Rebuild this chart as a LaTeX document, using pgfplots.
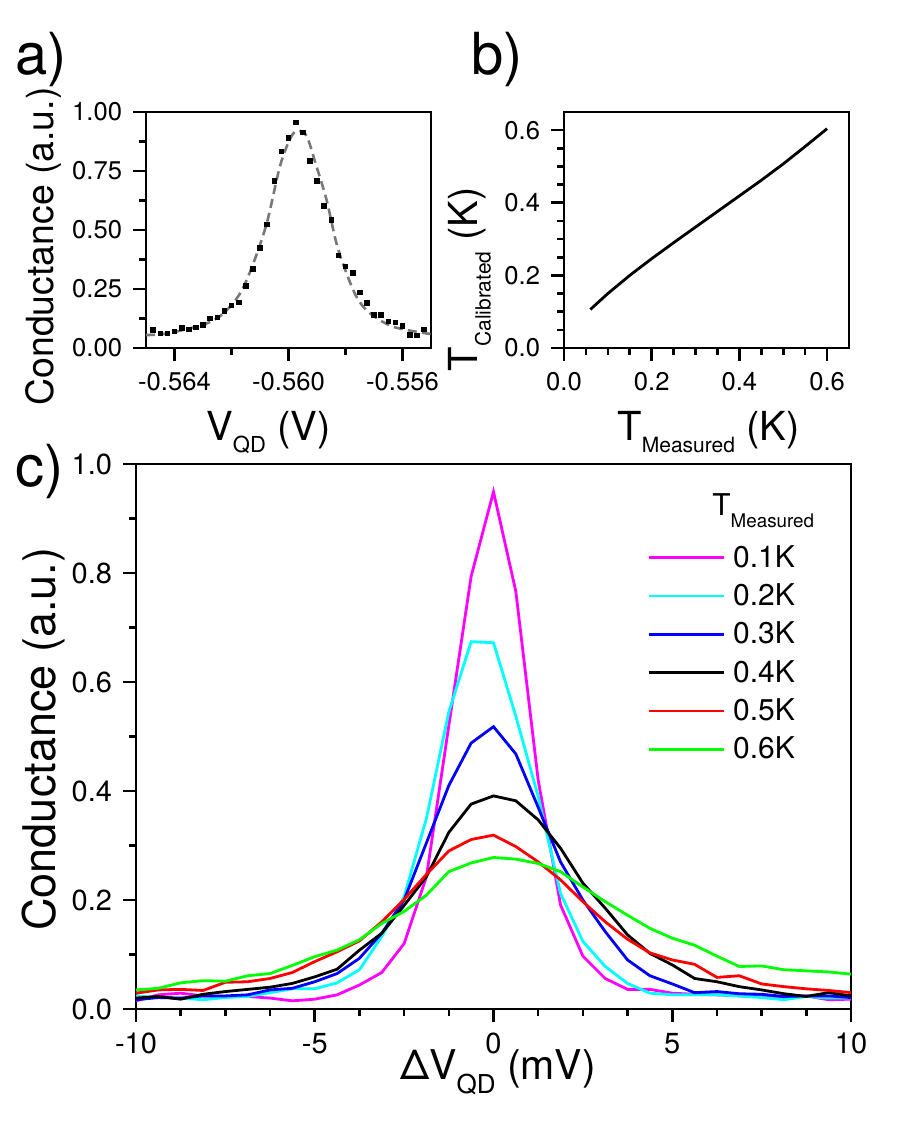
\documentclass[border=0pt]{standalone}
\usepackage{fontspec}
\setmainfont{TeX Gyre Heros}
\usepackage{pgfplots}
\usepackage{pgfplotstable}
\pgfplotsset{compat=1.18}

\newcommand{\fs}[1]{\fontsize{#1}{#1}\selectfont}
\definecolor{pmag}{RGB}{255,0,255}
\definecolor{pcyan}{RGB}{0,255,255}
\definecolor{pblue}{RGB}{0,0,255}
\definecolor{pred}{RGB}{255,0,0}
\definecolor{pgreen}{RGB}{0,255,0}
\definecolor{fitgray}{RGB}{120,120,120}

% conductance peaks at the six measured temperatures
\pgfplotstableread{
x m c b k r g
-10     0.015 0.024 0.017 0.020 0.029 0.035
-9.375  0.026 0.021 0.021 0.023 0.035 0.038
-8.75   0.029 0.020 0.020 0.018 0.036 0.048
-8.125  0.024 0.017 0.024 0.027 0.034 0.052
-7.5    0.023 0.021 0.024 0.032 0.049 0.051
-6.875  0.023 0.023 0.026 0.036 0.050 0.061
-6.25   0.020 0.030 0.035 0.040 0.056 0.065
-5.625  0.015 0.037 0.038 0.047 0.067 0.080
-5      0.018 0.037 0.050 0.059 0.087 0.096
-4.375  0.026 0.048 0.065 0.073 0.105 0.108
-3.75   0.044 0.072 0.093 0.108 0.125 0.127
-3.125  0.067 0.133 0.139 0.139 0.160 0.157
-2.5    0.120 0.206 0.200 0.190 0.201 0.179
-1.875  0.243 0.350 0.305 0.243 0.247 0.209
-1.25   0.520 0.545 0.410 0.324 0.290 0.252
-0.625  0.794 0.674 0.488 0.376 0.311 0.268
0       0.949 0.672 0.518 0.391 0.319 0.278
0.625   0.766 0.537 0.468 0.382 0.298 0.275
1.25    0.420 0.390 0.370 0.347 0.270 0.267
1.875   0.191 0.212 0.270 0.295 0.237 0.252
2.5     0.097 0.124 0.200 0.231 0.197 0.224
3.125   0.056 0.078 0.142 0.185 0.160 0.197
3.75    0.036 0.047 0.090 0.136 0.128 0.172
4.375   0.036 0.029 0.061 0.102 0.103 0.148
5       0.029 0.026 0.046 0.081 0.090 0.130
5.625   0.027 0.026 0.030 0.056 0.082 0.117
6.25    0.026 0.026 0.032 0.050 0.058 0.097
6.875   0.024 0.024 0.028 0.041 0.061 0.078
7.5     0.023 0.021 0.027 0.035 0.046 0.079
8.125   0.020 0.017 0.023 0.028 0.041 0.072
8.75    0.024 0.023 0.024 0.023 0.037 0.070
9.375   0.017 0.020 0.024 0.030 0.034 0.068
10      0.018 0.020 0.021 0.024 0.030 0.064
}\sweeps

\pgfplotsset{
  frame/.style={
    scale only axis,
    axis line style={line width=1.3pt},
    tick style={line width=1.3pt, black},
    tick align=outside,
    tick pos=left,
    major tick length=6.3pt,
    minor tick length=3.4pt,
    clip=true,
    /pgf/number format/assume math mode=true,
    xticklabel style={inner sep=0pt, yshift=-5.5pt},
    yticklabel style={inner sep=0pt, xshift=-5.5pt},
  },
}

\begin{document}
\begin{tikzpicture}
\path[use as bounding box] (0pt,0pt) rectangle (450pt,562.5pt);

% panel letters
\node[anchor=base west, inner sep=0pt, font=\fs{29}] at (7.5pt,525pt) {a)};
\node[anchor=base west, inner sep=0pt, font=\fs{29}] at (235.5pt,525pt) {b)};
\node[anchor=base west, inner sep=0pt, font=\fs{29}] at (7.5pt,319pt) {c)};

% a) single peak with fit
\begin{axis}[frame,
  at={(73pt,388.5pt)}, anchor=south west,
  width=142.5pt, height=118pt,
  xmin=-0.565, xmax=-0.555, ymin=0, ymax=1,
  xtick={-0.564,-0.560,-0.556},
  xticklabels={-0.564,-0.560,-0.556},
  ytick={0,0.25,0.5,0.75,1},
  yticklabels={0.00,0.25,0.50,0.75,1.00},
  minor x tick num=1, minor y tick num=1,
  ticklabel style={font=\fs{12.8}},
  xlabel={V\raisebox{-6.3pt}{\fs{11}QD} (V)},
  xlabel style={at={(axis description cs:0.21,-0.39)}, anchor=base west, inner sep=0pt, font=\fs{20}},
  ylabel={Conductance (a.u.)},
  ylabel style={at={(axis description cs:-0.326,0.43)}, anchor=base, rotate=0, inner sep=0pt, font=\fs{18.7}},
]
\addplot[fitgray, line width=1.3pt, dash pattern=on 4.5pt off 2.6pt, smooth] coordinates {
(-0.5650,0.055) (-0.56448,0.058) (-0.56367,0.077) (-0.56285,0.105)
(-0.56227,0.148) (-0.56169,0.233) (-0.56123,0.360) (-0.56076,0.530)
(-0.56030,0.770) (-0.55995,0.885) (-0.55971,0.920) (-0.55937,0.900)
(-0.55902,0.770) (-0.55867,0.630) (-0.55832,0.445) (-0.55797,0.318)
(-0.55762,0.218) (-0.55728,0.162) (-0.55681,0.119) (-0.55635,0.091)
(-0.55588,0.077) (-0.55518,0.062) (-0.5550,0.060)
};
\addplot[only marks, mark=square*, mark size=1.15pt, black] coordinates {
(-0.56475,0.077) (-0.56450,0.062) (-0.56425,0.062) (-0.56400,0.070)
(-0.56375,0.084) (-0.56350,0.079) (-0.56325,0.087) (-0.56300,0.097)
(-0.56275,0.125) (-0.56250,0.129) (-0.56225,0.158) (-0.56200,0.180)
(-0.56175,0.194) (-0.56150,0.264) (-0.56125,0.335) (-0.56100,0.424)
(-0.56075,0.523) (-0.56050,0.708) (-0.56025,0.833) (-0.56000,0.889)
(-0.55975,0.956) (-0.55950,0.913) (-0.55925,0.793) (-0.55900,0.709)
(-0.55875,0.601) (-0.55850,0.542) (-0.55825,0.393) (-0.55800,0.346)
(-0.55775,0.318) (-0.55750,0.235) (-0.55725,0.190) (-0.55700,0.140)
(-0.55675,0.140) (-0.55650,0.112) (-0.55625,0.108) (-0.55600,0.094)
(-0.55575,0.055) (-0.55550,0.054) (-0.55525,0.079)
};
\end{axis}

% b) temperature calibration
\begin{axis}[frame,
  at={(282pt,388.5pt)}, anchor=south west,
  width=142.5pt, height=118pt,
  xmin=0, xmax=0.65, ymin=0, ymax=0.65,
  xtick={0,0.2,0.4,0.6}, xticklabels={0.0,0.2,0.4,0.6},
  ytick={0,0.2,0.4,0.6}, yticklabels={0.0,0.2,0.4,0.6},
  minor x tick num=3, minor y tick num=3,
  ticklabel style={font=\fs{12.8}},
  xlabel={T\raisebox{-6.3pt}{\fs{10.5}Measured} (K)},
  xlabel style={at={(axis description cs:0.186,-0.39)}, anchor=base west, inner sep=0pt, font=\fs{20}},
  ylabel={T\raisebox{-6.3pt}{\fs{10.5}Calibrated} (K)},
  ylabel style={at={(axis description cs:-0.302,-0.10)}, anchor=base west, rotate=0, inner sep=0pt, font=\fs{20}},
]
\addplot[black, line width=1.4pt] coordinates {
(0.06,0.106) (0.10,0.150) (0.15,0.200) (0.20,0.246) (0.25,0.290)
(0.30,0.333) (0.35,0.376) (0.40,0.419) (0.45,0.462) (0.50,0.507)
(0.55,0.555) (0.60,0.604)
};
\end{axis}

% c) peaks versus temperature
\begin{axis}[frame,
  at={(68pt,58pt)}, anchor=south west,
  width=357.5pt, height=272.5pt,
  xmin=-10, xmax=10, ymin=0, ymax=1,
  xtick={-10,-5,0,5,10}, xticklabels={-10,-5,0,5,10},
  ytick={0,0.2,0.4,0.6,0.8,1}, yticklabels={0.0,0.2,0.4,0.6,0.8,1.0},
  minor x tick num=3, minor y tick num=1,
  ticklabel style={font=\fs{14.5}},
  xlabel={ΔV\raisebox{-7pt}{\fs{13}QD} (mV)},
  xlabel style={at={(axis description cs:0.369,-0.130)}, anchor=base west, inner sep=0pt, font=\fs{20.5}},
  ylabel={Conductance (a.u.)},
  ylabel style={at={(axis description cs:-0.112,0.495)}, anchor=base, rotate=0, inner sep=0pt, font=\fs{22.5}},
  legend cell align=left,
  legend image code/.code={\draw[#1] (0pt,0pt) -- (37.5pt,0pt);},
  legend style={at={(axis description cs:0.7147,0.8514)}, anchor=north west,
    draw=none, fill=none, inner sep=0pt, row sep=6.7pt,
    font=\fs{15}, nodes={inner sep=0pt},
    /tikz/every odd column/.append style={column sep=4pt}},
]
\addplot[pmag, line width=1.4pt] table[x=x, y=m] {\sweeps};
\addlegendentry{0.1K}
\addplot[pcyan, line width=1.4pt] table[x=x, y=c] {\sweeps};
\addlegendentry{0.2K}
\addplot[pblue, line width=1.4pt] table[x=x, y=b] {\sweeps};
\addlegendentry{0.3K}
\addplot[black, line width=1.4pt] table[x=x, y=k] {\sweeps};
\addlegendentry{0.4K}
\addplot[pred, line width=1.4pt] table[x=x, y=r] {\sweeps};
\addlegendentry{0.5K}
\addplot[pgreen, line width=1.4pt] table[x=x, y=g] {\sweeps};
\addlegendentry{0.6K}
\node[anchor=base west, inner sep=0pt, font=\fs{15}] at (axis description cs:0.8056,0.9046)
  {T\raisebox{-6pt}{\fs{9.4}Measured}};
\end{axis}
\end{tikzpicture}
\end{document}
